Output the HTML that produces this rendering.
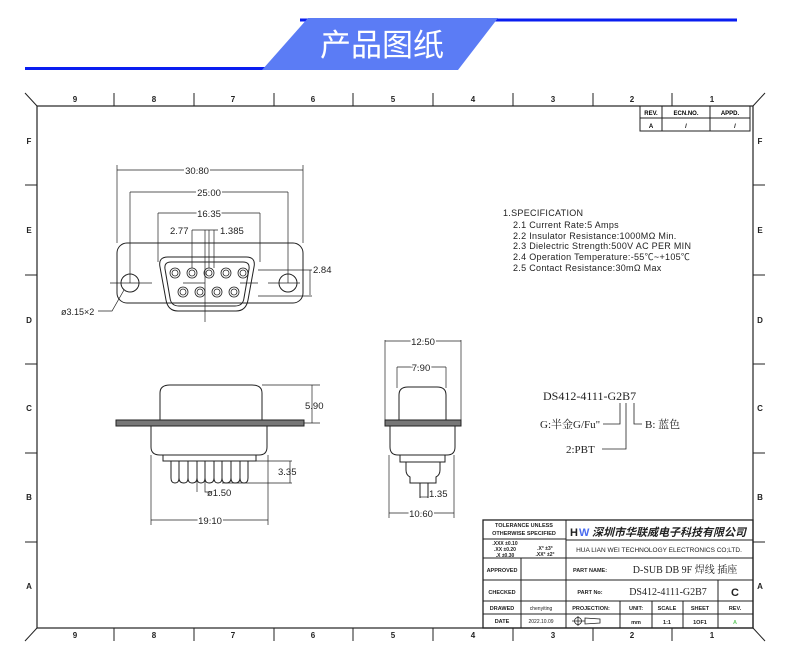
<!DOCTYPE html>
<html><head><meta charset="utf-8"><style>
html,body{margin:0;padding:0;background:#fff;width:790px;height:663px;overflow:hidden}
svg{display:block}
text{font-family:"Liberation Sans","Noto Sans CJK SC",sans-serif}
.s{font-family:"Liberation Serif","Noto Serif CJK SC",serif}
</style></head><body>
<svg width="790" height="663" viewBox="0 0 790 663" xmlns="http://www.w3.org/2000/svg">
<!-- header -->
<line x1="300" y1="20" x2="737" y2="20" stroke="#0a1ef0" stroke-width="3"/>
<line x1="25" y1="68.5" x2="275" y2="68.5" stroke="#0a1ef0" stroke-width="3"/>
<polygon points="308,18 498,18 458,70 262,70" fill="#5b7cf5"/>
<text x="382" y="56" font-size="31" fill="#fff" text-anchor="middle" font-family="Noto Sans CJK SC,sans-serif">产品图纸</text>

<g stroke="#222" fill="none" stroke-width="1">
<rect x="37" y="106" width="716" height="522" stroke-width="1.2"/>
<line x1="25" y1="93" x2="37" y2="106"/><line x1="765" y1="93" x2="753" y2="106"/>
<line x1="25" y1="641" x2="37" y2="628"/><line x1="765" y1="641" x2="753" y2="628"/>
<path d="M114 93V106M194 93V106M274 93V106M353 93V106M433 93V106M513 93V106M593 93V106M672 93V106"/>
<path d="M114 628V641M194 628V641M274 628V641M353 628V641M433 628V641M513 628V641M593 628V641M672 628V641"/>
<path d="M25 185H37M25 275H37M25 364H37M25 453H37M25 542H37"/>
<path d="M753 185H765M753 275H765M753 364H765M753 453H765M753 542H765"/>
</g>
<g font-size="8" font-weight="bold" text-anchor="middle" fill="#222">
<text x="75" y="102">9</text><text x="154" y="102">8</text><text x="233" y="102">7</text><text x="313" y="102">6</text><text x="393" y="102">5</text><text x="473" y="102">4</text><text x="553" y="102">3</text><text x="632" y="102">2</text><text x="712" y="102">1</text>
<text x="75" y="638">9</text><text x="154" y="638">8</text><text x="233" y="638">7</text><text x="313" y="638">6</text><text x="393" y="638">5</text><text x="473" y="638">4</text><text x="553" y="638">3</text><text x="632" y="638">2</text><text x="712" y="638">1</text>
<text x="29" y="144">F</text><text x="29" y="233">E</text><text x="29" y="323">D</text><text x="29" y="411">C</text><text x="29" y="500">B</text><text x="29" y="589">A</text>
<text x="760" y="144">F</text><text x="760" y="233">E</text><text x="760" y="323">D</text><text x="760" y="411">C</text><text x="760" y="500">B</text><text x="760" y="589">A</text>
</g>
<!-- rev table -->
<g stroke="#222" fill="none"><rect x="640" y="106" width="110" height="25"/><path d="M640 118H750M662 106V131M710 106V131"/></g>
<g font-size="6" font-weight="bold" text-anchor="middle"><text x="651" y="115">REV.</text><text x="686" y="115">ECN.NO.</text><text x="730" y="115">APPD.</text><text x="651" y="128">A</text><text x="686" y="128">/</text><text x="735" y="128">/</text></g>

<!-- front view -->
<g stroke="#222" fill="none" stroke-width="1">
<rect x="117" y="243" width="186" height="60" rx="10"/>
<circle cx="130" cy="283" r="9"/><circle cx="288" cy="283" r="9"/>
<path d="M168 257H246Q256 257 254 267L248 300Q246 311 236 311H178Q168 311 166 300L160 267Q158 257 168 257Z"/>
<path d="M171 262H243Q250 262 249 269L244 298Q243 306 235 306H179Q171 306 170 298L165 269Q164 262 171 262Z"/>
<g stroke-width="0.8">
<circle cx="175" cy="273" r="5"/><circle cx="175" cy="273" r="3"/>
<circle cx="192" cy="273" r="5"/><circle cx="192" cy="273" r="3"/>
<circle cx="209" cy="273" r="5"/><circle cx="209" cy="273" r="3"/>
<circle cx="226" cy="273" r="5"/><circle cx="226" cy="273" r="3"/>
<circle cx="243" cy="273" r="5"/><circle cx="243" cy="273" r="3"/>
<circle cx="183" cy="292" r="5"/><circle cx="183" cy="292" r="3"/>
<circle cx="200" cy="292" r="5"/><circle cx="200" cy="292" r="3"/>
<circle cx="217" cy="292" r="5"/><circle cx="217" cy="292" r="3"/>
<circle cx="234" cy="292" r="5"/><circle cx="234" cy="292" r="3"/>
</g>
<g stroke-width="0.7">
<path d="M117 170H303M117 165V243M303 165V243"/>
<path d="M130 192H288M130 192V283M288 192V283"/>
<path d="M158 213H260M158 213V262M260 213V262"/>
<path d="M192 230H214M192 230V268M204 230H218M205 230V322M209 230V268M214 230V268"/>
<path d="M110 283H152M268 283H300M240 283H258M183 283H205M310 270V295M258 270H312M258 296H312"/>
<path d="M124 290L112 311H98"/>
</g>
</g>
<g font-size="9.5" fill="#222">
<text x="197" y="174" text-anchor="middle" fill="#222" style="paint-order:stroke" stroke="#fff" stroke-width="3">30.80</text>
<text x="209" y="196" text-anchor="middle" style="paint-order:stroke" stroke="#fff" stroke-width="3">25.00</text>
<text x="209" y="217" text-anchor="middle" style="paint-order:stroke" stroke="#fff" stroke-width="3">16.35</text>
<text x="170" y="234">2.77</text><text x="220" y="234">1.385</text>
<text x="313" y="273">2.84</text>
<text x="61" y="315" font-size="9">ø3.15×2</text>
</g>

<!-- side view -->
<g stroke="#222" fill="none" stroke-width="1">
<path d="M160 420V393Q160 385 170 385H252Q262 385 262 393V420"/>
<rect x="116" y="420" width="188" height="6" fill="#777"/>
<path d="M151 426V447Q151 455 160 455H259Q267 455 267 447V426"/>
<path d="M163 455V461H256V455"/>
<path d="M171 461V478Q171 483 175 483Q179 483 179 478V461M179 461V478Q179 483 184 483Q188 483 188 478V461M188 461V478Q188 483 192 483Q197 483 197 478V461M197 461V478Q197 483 201 483Q205 483 205 478V461M205 461V478Q205 483 209 483Q214 483 214 478V461M214 461V478Q214 483 218 483Q222 483 222 478V461M222 461V478Q222 483 226 483Q231 483 231 478V461M231 461V478Q231 483 235 483Q240 483 240 478V461M240 461V478Q240 483 244 483Q248 483 248 478V461"/>
<g stroke-width="0.7">
<path d="M262 385H320M312 385V423M304 423H320"/>
<path d="M240 461H292M222 483H292M290 461V483"/>
<path d="M197 478V492M205 478V492H210"/>
<path d="M151 455V525M268 455V525M151 520H268"/>
</g>
<!-- right view -->
<path d="M399 420V395Q399 387 408 387H437Q446 387 446 395V420"/>
<rect x="385" y="420" width="76" height="6" fill="#777"/>
<path d="M390 426V447Q390 455 398 455H447Q455 455 455 447V426"/>
<path d="M400 455V462H445V455"/>
<path d="M406 462V470Q406 475 410 477V483H436V477Q440 475 440 470V462"/>
<path d="M420 483V498M428 483V498"/>
<g stroke-width="0.7">
<path d="M385 340V420M461 340V420M385 341H461"/>
<path d="M397 367V388M446 367V388M397 367H446"/>
<path d="M389 455V518M454 455V518M389 513H454"/>
<path d="M420 497H428"/>
</g>
</g>
<g font-size="9.5" fill="#222">
<text x="305" y="409">5.90</text>
<text x="278" y="475">3.35</text>
<text x="207" y="496">ø1.50</text>
<text x="210" y="524" text-anchor="middle" style="paint-order:stroke" stroke="#fff" stroke-width="3">19.10</text>
<text x="423" y="345" text-anchor="middle" style="paint-order:stroke" stroke="#fff" stroke-width="3">12.50</text>
<text x="421" y="371" text-anchor="middle" style="paint-order:stroke" stroke="#fff" stroke-width="3">7.90</text>
<text x="429" y="497">1.35</text>
<text x="421" y="517" text-anchor="middle" style="paint-order:stroke" stroke="#fff" stroke-width="3">10.60</text>
</g>

<!-- spec -->
<g font-size="9" fill="#222" font-family="Liberation Mono,monospace" style="font-family:'Liberation Sans',sans-serif" letter-spacing="0.3">
<text x="503" y="216">1.SPECIFICATION</text>
<text x="513" y="228">2.1 Current Rate:5 Amps</text>
<text x="513" y="239">2.2 Insulator Resistance:1000MΩ Min.</text>
<text x="513" y="249">2.3 Dielectric Strength:500V AC PER MIN</text>
<text x="513" y="260">2.4 Operation Temperature:-55℃~+105℃</text>
<text x="513" y="271">2.5 Contact Resistance:30mΩ Max</text>
</g>
<g class="s" font-size="12" fill="#222">
<text x="543" y="400" class="s">DS412-4111-G2B7</text>
<text x="540" y="428" class="s" font-size="11">G:半金G/Fu"</text>
<text x="645" y="428" class="s" font-size="11">B: 蓝色</text>
<text x="566" y="453" class="s" font-size="11">2:PBT</text>
</g>
<g stroke="#222" fill="none" stroke-width="0.8"><path d="M620 403V424H603M626 403V449H602M634 403V424H642"/></g>

<!-- title block -->
<g stroke="#222" fill="none" stroke-width="1">
<rect x="483" y="520" width="270" height="108" stroke-width="1.3"/>
<path d="M566 520V628M483 539H566M566 540H753M483 558H753M483 580H753M483 601H753M483 614H753"/>
<path d="M521 558V628M620 601V628M652 601V628M683 601V628M718 580V628"/>
</g>
<g font-size="5.5" font-weight="bold" fill="#222" text-anchor="middle">
<text x="524" y="527">TOLERANCE UNLESS</text><text x="524" y="535">OTHERWISE SPECIFIED</text>
<text x="505" y="545" font-size="5">.XXX ±0.10</text><text x="505" y="551" font-size="5">.XX ±0.20</text><text x="505" y="557" font-size="5">.X ±0.30</text>
<text x="545" y="550" font-size="5">.X° ±3°</text><text x="545" y="556" font-size="5">.XX° ±2°</text>
<text x="502" y="572">APPROVED</text><text x="502" y="594">CHECKED</text><text x="502" y="610">DRAWED</text><text x="502" y="623">DATE</text>
<text x="590" y="572">PART NAME:</text><text x="590" y="594">PART No:</text><text x="591" y="610">PROJECTION:</text>
<text x="636" y="610">UNIT:</text><text x="667" y="610">SCALE</text><text x="700" y="610">SHEET</text><text x="735" y="610">REV.</text>
<text x="636" y="624">mm</text><text x="667" y="624">1:1</text><text x="700" y="624">1OF1</text><text x="735" y="624" fill="#6c6">A</text>
<text x="659" y="552" font-size="6.5" font-weight="normal">HUA LIAN WEI TECHNOLOGY ELECTRONICS CO;LTD.</text>
</g>
<text x="570" y="536" font-size="11" font-weight="bold" fill="#222">H</text><text x="579" y="536" font-size="11" font-weight="bold" fill="#4a6cf0">W</text>
<text x="592" y="536" font-size="11" font-weight="bold" font-style="italic" fill="#222" font-family="Noto Sans CJK SC,sans-serif">深圳市华联威电子科技有限公司</text>
<text x="685" y="573" class="s" font-size="10" text-anchor="middle" fill="#222">D-SUB DB 9F 焊线 插座</text>
<text x="668" y="595" class="s" font-size="10" text-anchor="middle" fill="#222">DS412-4111-G2B7</text>
<text x="735" y="596" font-size="11" text-anchor="middle" font-weight="bold" fill="#222">C</text>
<text x="541" y="610" font-size="5" text-anchor="middle" fill="#222">chenyiting</text>
<text x="541" y="623" font-size="5" text-anchor="middle" fill="#222">2022.10.09</text>
<g stroke="#222" fill="none" stroke-width="0.8"><circle cx="578" cy="621" r="3.5"/><path d="M572 621H585M578 616V626M585 618L600 619V623L585 624Z"/></g>
</svg>
</body></html>
